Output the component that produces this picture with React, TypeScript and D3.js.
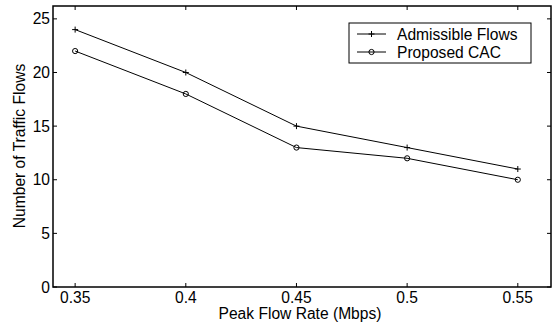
import React from "react";
import * as d3 from "d3";

const rates = [0.35, 0.4, 0.45, 0.5, 0.55];
const admissible = [24, 20, 15, 13, 11];
const proposed = [22, 18, 13, 12, 10];
const xTicks = [0.35, 0.4, 0.45, 0.5, 0.55];
const yTicks = [0, 5, 10, 15, 20, 25];

const W = 559, H = 327;
const left = 53, right = 551, top = 6, bottom = 287;
const font = "'Liberation Sans', Arial, Helvetica, sans-serif";
const fs = 15.6;

const App = () => {
  const x = d3.scaleLinear().domain([0.34, 0.565]).range([left, right]);
  const y = d3.scaleLinear().domain([0, 26.2]).range([bottom, top]);
  const line = d3.line<number>().x((d, i) => x(rates[i])).y(d => y(d));
  const tl = 4;

  const plus = (cx: number, cy: number, k: string) => (
    <path key={k} d={`M${cx - 3},${cy}H${cx + 3}M${cx},${cy - 3}V${cy + 3}`} stroke="#000" strokeWidth={1} />
  );
  const circ = (cx: number, cy: number, k: string) => (
    <circle key={k} cx={cx} cy={cy} r={2.6} fill="none" stroke="#000" strokeWidth={1} />
  );

  return (
    <svg width={W} height={H} style={{ position: "absolute", left: 0, top: 0, background: "#fff" }} fontFamily={font}>
      <rect x={0} y={0} width={W} height={H} fill="#fff" />
      {/* ticks */}
      {xTicks.map(t => (
        <g key={"xt" + t}>
          <line x1={x(t)} x2={x(t)} y1={bottom} y2={bottom - tl} stroke="#000" />
          <line x1={x(t)} x2={x(t)} y1={top} y2={top + tl} stroke="#000" />
          <text x={x(t)} y={303} textAnchor="middle" fontSize={fs}>{t}</text>
        </g>
      ))}
      {yTicks.map(t => (
        <g key={"yt" + t}>
          <line x1={left} x2={left + tl} y1={y(t)} y2={y(t)} stroke="#000" />
          <line x1={right} x2={right - tl} y1={y(t)} y2={y(t)} stroke="#000" />
          <text x={left - 3} y={y(t) + 5.5} textAnchor="end" fontSize={fs}>{t}</text>
        </g>
      ))}
      <rect x={left} y={top} width={right - left} height={bottom - top} fill="none" stroke="#000" strokeWidth={1.5} />
      {/* series */}
      <path d={line(admissible) || ""} fill="none" stroke="#000" strokeWidth={1} />
      <path d={line(proposed) || ""} fill="none" stroke="#000" strokeWidth={1} />
      {admissible.map((v, i) => plus(x(rates[i]), y(v), "a" + i))}
      {proposed.map((v, i) => circ(x(rates[i]), y(v), "p" + i))}
      {/* labels */}
      <text x={300} y={318.5} textAnchor="middle" fontSize={fs}>Peak Flow Rate (Mbps)</text>
      <text transform={`translate(25,146) rotate(-90)`} textAnchor="middle" fontSize={fs}>Number of Traffic Flows</text>
      {/* legend */}
      <rect x={349} y={23} width={182} height={40} fill="#fff" stroke="#000" strokeWidth={1} />
      <line x1={357} x2={386} y1={34} y2={34} stroke="#000" />
      {plus(371.5, 34, "la")}
      <line x1={357} x2={386} y1={52} y2={52} stroke="#000" />
      {circ(371.5, 52, "lp")}
      <text x={397} y={39.5} fontSize={fs}>Admissible Flows</text>
      <text x={397} y={57.5} fontSize={fs}>Proposed CAC</text>
    </svg>
  );
};

export default App;
